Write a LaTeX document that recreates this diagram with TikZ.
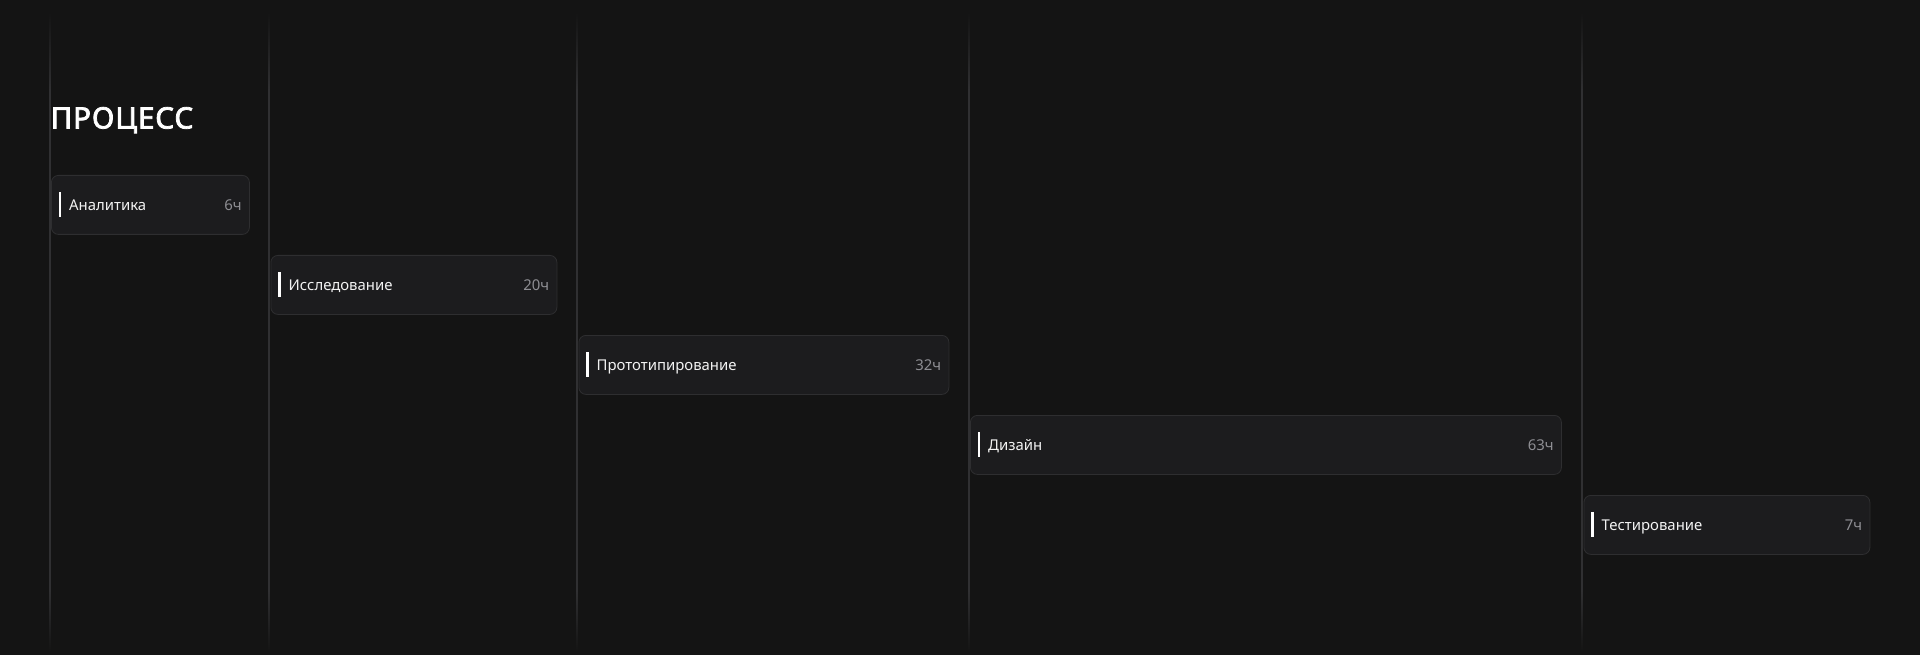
\documentclass[tikz,border=0pt]{standalone}
\usepackage{fontspec}
\setmainfont{Noto Sans}
\newfontfamily\titlefont{Noto Sans}[FakeBold=2.6, LetterSpace=3]
\definecolor{bgdark}{HTML}{141414}
\definecolor{gridline}{HTML}{303032}
\definecolor{boxfill}{HTML}{1C1C1E}
\definecolor{boxline}{HTML}{2E2E30}
\definecolor{hourgrey}{HTML}{8E8E93}
\definecolor{textwhite}{HTML}{F2F2F2}
% column line fading out at both ends (path spans 25bp..75bp)
\pgfdeclareverticalshading{colfade}{100bp}{color(0bp)=(bgdark); color(25bp)=(bgdark);
    color(29.8bp)=(gridline); color(68.9bp)=(gridline); color(75bp)=(bgdark); color(100bp)=(bgdark)}
\begin{document}
\begin{tikzpicture}[
                x=1pt, y=-1pt,
                phase/.style={draw=boxline, fill=boxfill, line width=0.8pt, rounded corners=7pt,
                    minimum height=59pt, inner sep=0pt, anchor=north west},
                phasename/.style={anchor=base west, inner sep=0pt, text=textwhite,
                    font=\fontsize{14.9}{18}\selectfont},
                hours/.style={anchor=base east, inner sep=0pt, text=hourgrey,
                    font=\fontsize{14.9}{18}\selectfont},
                accent/.style={draw=white, line width=2.4pt}
            ]

            % Background
            \fill[bgdark] (0,0) rectangle (1920,655);

            % Column lines
            \foreach \x in {50, 269, 577, 969, 1582} {
                \shade[shading=colfade] (\x-0.4,12) rectangle (\x+0.4,652);
            }

            % Title
            \node[anchor=base west, inner sep=0pt, text=white,
                  font=\titlefont\fontsize{29.5}{34}\selectfont]
                (title) at (50.5,128.5) {ПРОЦЕСС};

            % Phases
            \node[phase, minimum width=198pt] (p1) at (51,175) {};
            \node[phase, minimum width=286pt] (p2) at (270.5,255) {};
            \node[phase, minimum width=370pt] (p3) at (578.5,335) {};
            \node[phase, minimum width=591pt] (p4) at (970,415) {};
            \node[phase, minimum width=286pt] (p5) at (1583.5,495) {};

            % Names, hours and accent bars
            \foreach \p/\name/\h in {p1/Аналитика/6ч, p2/Исследование/20ч, p3/Прототипирование/32ч,
                                      p4/Дизайн/63ч, p5/Тестирование/7ч} {
                \draw[accent] ([xshift=9pt, yshift=12.5pt]\p.west) -- ([xshift=9pt, yshift=-12.5pt]\p.west);
                \node[phasename] (\p name) at ([xshift=18pt, yshift=-5.6pt]\p.west) {\name};
                \node[hours] (\p hours) at ([xshift=-8pt, yshift=-5.6pt]\p.east) {\h};
            }

        \end{tikzpicture}
\end{document}
